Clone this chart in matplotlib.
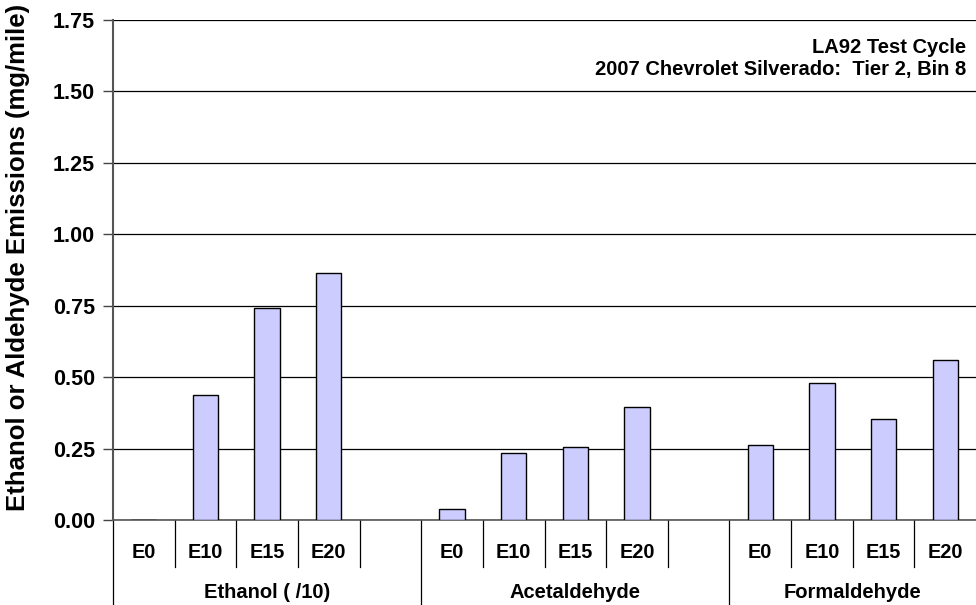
import matplotlib
matplotlib.use("Agg")
import matplotlib.pyplot as plt
from matplotlib.transforms import blended_transform_factory

plt.rcParams['font.family'] = ['Liberation Sans', 'DejaVu Sans']
plt.rcParams['font.weight'] = 'bold'

# data (mg/mile, ethanol divided by 10)
groups = ['Ethanol ( /10)', 'Acetaldehyde', 'Formaldehyde']
fuels = ['E0', 'E10', 'E15', 'E20']
ethanol = [0.0, 0.436, 0.742, 0.865]
acetaldehyde = [0.040, 0.235, 0.255, 0.396]
formaldehyde = [0.263, 0.481, 0.354, 0.561]
yticks = [0.0, 0.25, 0.5, 0.75, 1.0, 1.25, 1.5, 1.75]
note = "LA92 Test Cycle\n2007 Chevrolet Silverado:  Tier 2, Bin 8"

series = [ethanol, acetaldehyde, formaldehyde]
slots_per_group = 5  # 4 fuels + 1 empty slot
n_slots = slots_per_group * len(groups) - 1

fig = plt.figure(figsize=(9.76, 6.05), dpi=100)
ax = fig.add_axes([113 / 976, 85 / 605, 863 / 976, 500 / 605])

for g, vals in enumerate(series):
    xs = [g * slots_per_group + i + 0.5 for i in range(len(fuels))]
    ax.bar(xs, vals, width=0.41, color='#CCCCFF', edgecolor='black',
           linewidth=1.0, zorder=3)

ax.set_xlim(0, n_slots)
ax.set_ylim(0, 1.75)
ax.set_yticks(yticks)
ax.set_yticklabels([f"{v:.2f}" for v in yticks], fontsize=15.5, fontweight='bold')
ax.tick_params(axis='y', direction='out', length=7, width=1, color='#444444', pad=6)
ax.set_xticks([])
ax.yaxis.grid(True, color='black', linewidth=0.9, zorder=0)
for s in ['top', 'right']:
    ax.spines[s].set_visible(False)
ax.spines['left'].set_color('#555555')
ax.spines['left'].set_linewidth(1.5)
ax.spines['bottom'].set_color('#555555')
ax.spines['bottom'].set_linewidth(1.2)

ax.set_ylabel('Ethanol or Aldehyde Emissions (mg/mile)', fontsize=18.5,
              fontweight='bold')
ax.yaxis.set_label_coords(-0.096, 0.526)

# category axis labels below the plot
trans = blended_transform_factory(ax.transData, ax.transAxes)
px = 1 / 500  # one pixel in axes-fraction units (vertical)
for g, name in enumerate(groups):
    start = g * slots_per_group
    for i, f in enumerate(fuels):
        ax.text(start + i + 0.5, -32 * px, f, transform=trans, ha='center',
                va='center', fontsize=14.3, fontweight='bold')
    end = min(start + slots_per_group, n_slots)
    ax.text((start + end) / 2, -72 * px, name, transform=trans, ha='center',
            va='center', fontsize=14.5, fontweight='bold')

for k in range(n_slots):
    if k % slots_per_group == 0:
        y_end = -86 * px
    else:
        y_end = -47 * px
    ax.plot([k, k], [0, y_end], transform=trans, color='black',
            linewidth=0.9, clip_on=False)

ax.text(0.989, 0.964, note, transform=ax.transAxes, ha='right', va='top',
        fontsize=14.5, fontweight='bold', linespacing=1.2)

fig.savefig('out.png', dpi=100)
